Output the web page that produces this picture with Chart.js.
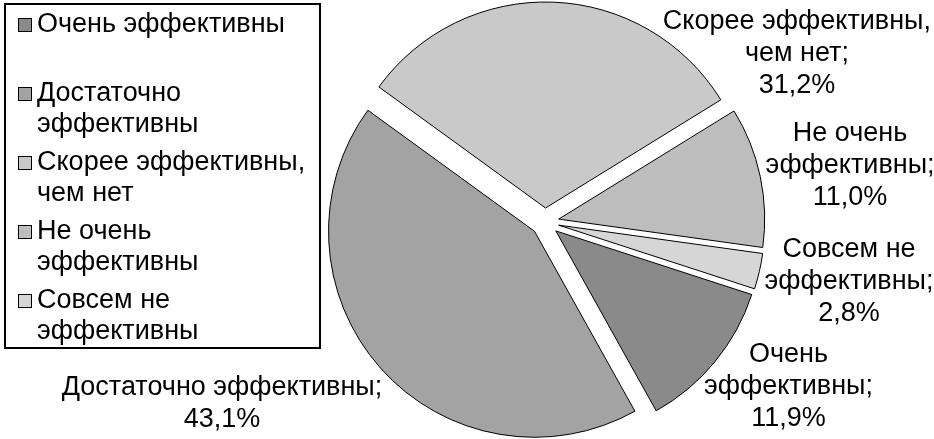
<!DOCTYPE html>
<html>
<head>
<meta charset="utf-8">
<script src="https://cdn.jsdelivr.net/npm/chart.js@4/dist/chart.umd.min.js"></script>
<style>
  html, body { margin: 0; padding: 0; background: #fff; }
  #wrap { width: 934px; height: 439px; }
</style>
</head>
<body>
<div id="wrap"><canvas id="grafico" width="934" height="439"></canvas></div>
<script>
// datos del grafico
const categorias = ['Очень эффективны', 'Достаточно эффективны', 'Скорее эффективны, чем нет', 'Не очень эффективны', 'Совсем не эффективны'];
const valores = [11.9, 43.1, 31.2, 11.0, 2.8];
const colores = ['#8a8a8a', '#a3a3a3', '#c9c9c9', '#bdbdbd', '#d6d6d6'];

// lineas de texto de la leyenda y de las etiquetas
const lineasLeyenda = [
    ['Очень эффективны'],
    ['Достаточно', 'эффективны'],
    ['Скорее эффективны,', 'чем нет'],
    ['Не очень', 'эффективны'],
    ['Совсем не', 'эффективны']
];
const lineasEtiqueta = [
    ['Очень', 'эффективны;'],
    ['Достаточно эффективны;'],
    ['Скорее эффективны,', 'чем нет;'],
    ['Не очень', 'эффективны;'],
    ['Совсем не', 'эффективны;']
];
// posicion de las etiquetas relativa al centro (en radios)
const posEtiqueta = [[1.182, 0.801], [-1.568, 0.879], [1.223, -0.820], [1.481, -0.272], [1.476, 0.290]];

const FUENTE = '27px "Liberation Sans", Arial, sans-serif';
const DESPLAZAMIENTO = 14; // separacion de las porciones (px)

function fmtPct(v) {
    return v.toFixed(1).replace('.', ',') + '%';
}

function centro(chart) {
    const a = chart.chartArea;
    return { cx: (a.left + a.right) / 2, cy: (a.top + a.bottom) / 2 };
}

// separa cada porcion del centro, todas con el mismo radio
const pluginExplotar = {
    id: 'explotar',
    beforeDatasetsDraw(chart) {
        const { cx, cy } = centro(chart);
        chart.getDatasetMeta(0).data.forEach(arc => {
            const mid = (arc.startAngle + arc.endAngle) / 2;
            arc.x = cx + Math.cos(mid) * DESPLAZAMIENTO;
            arc.y = cy + Math.sin(mid) * DESPLAZAMIENTO;
        });
    }
};

// etiquetas fuera del pastel
const pluginEtiquetas = {
    id: 'etiquetas',
    afterDatasetsDraw(chart) {
        const ctx = chart.ctx;
        const { cx, cy } = centro(chart);
        const r = chart.getDatasetMeta(0).data[0].outerRadius;
        ctx.save();
        ctx.font = FUENTE;
        ctx.fillStyle = '#000';
        ctx.textAlign = 'center';
        ctx.textBaseline = 'middle';
        valores.forEach((v, i) => {
            const lineas = lineasEtiqueta[i].concat([fmtPct(v)]);
            const x = cx + posEtiqueta[i][0] * r;
            const y = cy + posEtiqueta[i][1] * r;
            const alto = 32;
            const y0 = y - (lineas.length - 1) * alto / 2;
            lineas.forEach((t, k) => ctx.fillText(t, x, y0 + k * alto));
        });
        ctx.restore();
    }
};

// leyenda con recuadro a la izquierda
const pluginLeyenda = {
    id: 'leyendaCaja',
    afterDraw(chart) {
        const ctx = chart.ctx;
        ctx.save();
        ctx.strokeStyle = '#000';
        ctx.lineWidth = 2;
        ctx.strokeRect(5, 4, 315, 344);
        ctx.font = FUENTE;
        ctx.textBaseline = 'middle';
        ctx.textAlign = 'left';
        lineasLeyenda.forEach((lineas, i) => {
            const y = 25 + i * 69;
            ctx.fillStyle = colores[i];
            ctx.fillRect(18.5, y - 6.5, 13, 13);
            ctx.lineWidth = 1;
            ctx.strokeStyle = '#000';
            ctx.strokeRect(18.5, y - 6.5, 13, 13);
            ctx.fillStyle = '#000';
            lineas.forEach((t, k) => ctx.fillText(t, 37, y + k * 31));
        });
        ctx.restore();
    }
};

new Chart(document.getElementById('grafico'), {
    type: 'pie',
    data: {
        labels: categorias,
        datasets: [{
            data: valores,
            backgroundColor: colores,
            borderColor: '#000',
            borderWidth: 1
        }]
    },
    options: {
        responsive: false,
        animation: false,
        events: [],
        rotation: 108,
        radius: 206,
        layout: { padding: { left: 340, right: 184, top: 8, bottom: 3 } },
        plugins: {
            legend: { display: false },
            tooltip: { enabled: false }
        }
    },
    plugins: [pluginExplotar, pluginEtiquetas, pluginLeyenda]
});
</script>
</body>
</html>
